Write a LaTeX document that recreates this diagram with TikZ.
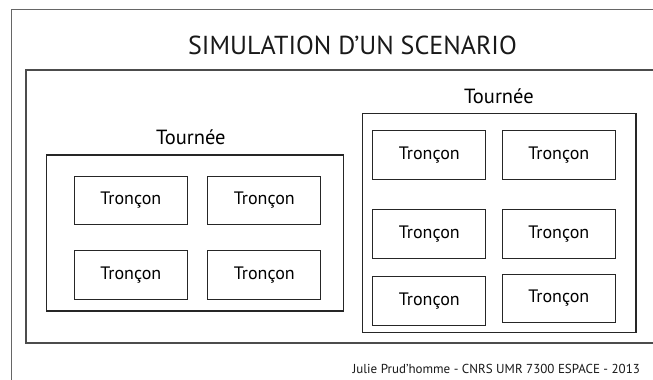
\documentclass[tikz,border=0pt]{standalone}
\usepackage{fontspec}
\setmainfont{PT Sans}
\begin{document}
\begin{tikzpicture}[x=1pt, y=-1pt,
    troncon/.style={draw=black!85, line width=1pt, inner sep=0pt,
        minimum width=113pt, minimum height=48.5pt,
        font=\fontsize{18}{21}\selectfont},
    tournee/.style={draw=black!85, line width=1.3pt, inner sep=0pt},
    titre/.style={font=\fontsize{20.5}{24}\selectfont}]
    \useasboundingbox[fill=white] (0,0) rectangle (653,380);
    % cadres
    \draw[black!60, line width=1pt] (11.5,380) -- (11.5,9.5) -- (653,9.5);
    \draw[black!70, line width=2pt] (653,69.5) -- (25.5,69.5) -- (25.5,343) -- (653,343);
    \node[font=\fontsize{26}{31}\selectfont, text=black!90] (sim) at (352.5,45.5) {SIMULATION D’UN SCENARIO};
    % tournee gauche
    \node[tournee, minimum width=297pt, minimum height=156pt] (tg) at (195.3,232.9) {};
    \node[titre] (lg) at (190.8,137) {Tournée};
    \foreach \i/\x/\y in {1/130.8/200.4, 2/264.3/200.4, 3/130.8/274.9, 4/264.3/274.9}{
        \node[troncon] (g\i) at (\x,\y) {Tronçon};
    };
    % tournee droite
    \node[tournee, minimum width=273.3pt, minimum height=219.4pt] (td) at (499.3,223) {};
    \node[titre] (ld) at (499,96) {Tournée};
    \foreach \i/\x/\y in {1/429.3/155.2, 2/558.8/155.2, 3/429.3/233.8,
        4/558.8/233.8, 5/429.3/300.9, 6/558.8/298.5}{
        \node[troncon] (d\i) at (\x,\y) {Tronçon};
    };
    \node[anchor=east, font=\fontsize{13}{15}\selectfont, text=black!90] (auteur) at (643.5,369)
        {Julie Prud’homme - CNRS UMR 7300 ESPACE - 2013};
\end{tikzpicture}
\end{document}
